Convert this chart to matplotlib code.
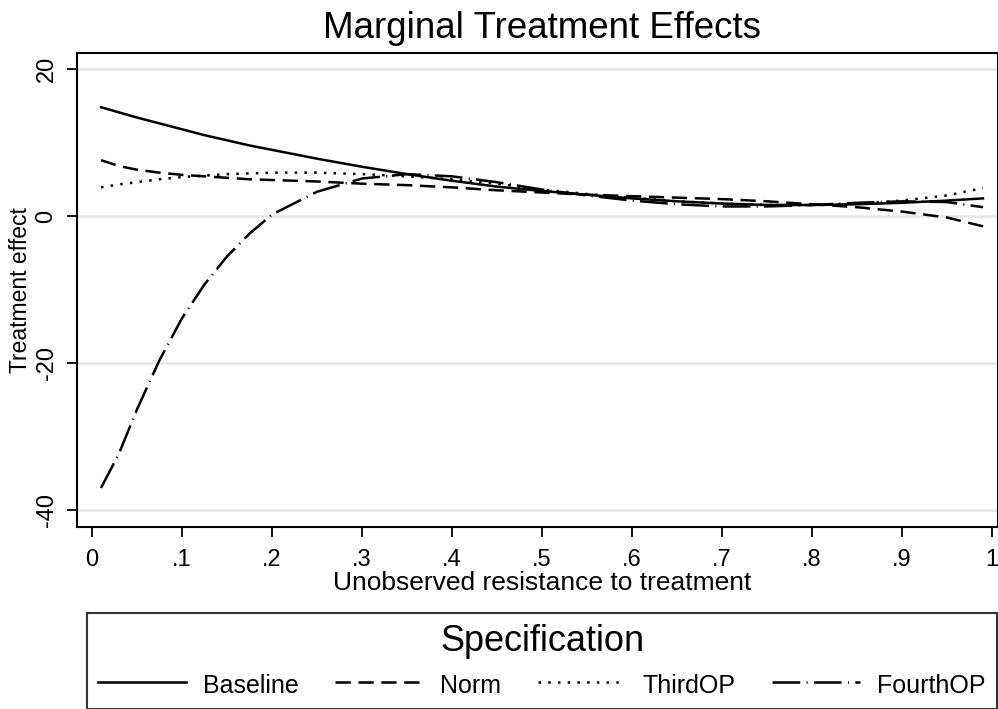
import matplotlib
matplotlib.use('Agg')
import matplotlib.pyplot as plt
import numpy as np

plt.rcParams['font.family'] = ['Liberation Sans', 'DejaVu Sans']
plt.rcParams['lines.scale_dashes'] = False

# Data
u = [0.01, 0.03, 0.05, 0.075, 0.1, 0.125, 0.15, 0.175, 0.2, 0.25, 0.3, 0.35,
     0.4, 0.45, 0.5, 0.55, 0.6, 0.65, 0.7, 0.75, 0.8, 0.85, 0.9, 0.95, 0.99]
baseline = [14.8, 14.1, 13.4, 12.6, 11.8, 11.0, 10.3, 9.6, 9.0, 7.8, 6.7, 5.7,
            4.8, 4.0, 3.4, 2.9, 2.4, 2.0, 1.7, 1.5, 1.5, 1.6, 1.8, 2.1, 2.4]
norm = [7.6, 6.8, 6.3, 5.9, 5.6, 5.4, 5.2, 5.0, 4.9, 4.7, 4.4, 4.2,
        3.9, 3.5, 3.2, 2.9, 2.7, 2.5, 2.3, 2.0, 1.6, 1.2, 0.6, -0.2, -1.4]
thirdop = [3.9, 4.3, 4.6, 5.0, 5.3, 5.5, 5.7, 5.8, 5.9, 5.9, 5.7, 5.4,
           5.0, 4.4, 3.6, 3.0, 2.5, 2.0, 1.7, 1.5, 1.5, 1.7, 2.1, 2.8, 3.8]
fourthop = [-37.0, -32.3, -26.3, -19.6, -13.9, -9.3, -5.5, -2.4, 0.2, 3.3, 5.1, 5.7,
            5.4, 4.6, 3.6, 2.8, 2.1, 1.6, 1.3, 1.3, 1.5, 1.8, 2.0, 1.9, 1.2]
series_names = ['Baseline', 'Norm', 'ThirdOP', 'FourthOP']
xtick_vals = [0, 0.1, 0.2, 0.3, 0.4, 0.5, 0.6, 0.7, 0.8, 0.9, 1.0]
xtick_labels = ['0', '.1', '.2', '.3', '.4', '.5', '.6', '.7', '.8', '.9', '1']
ytick_vals = [-40, -20, 0, 20]
ytick_labels = ['-40', '-20', '0', '20']

W, H = 998, 709
fig = plt.figure(figsize=(W / 100, H / 100), dpi=100)
ax = fig.add_axes([77 / W, (H - 527) / H, 921 / W, 474 / H])

styles = ['-', (0, (11, 5.5)), (0, (1.8, 5.2)), (0, (20, 4.5, 0.8, 4.5))]
for vals, name, ls in zip([baseline, norm, thirdop, fourthop], series_names, styles):
    ax.plot(u, vals, color='black', lw=1.8, ls=ls, label=name)

ax.set_xlim(-0.0167, 1.0067)
ax.set_ylim(-42.31, 22.18)
ax.set_xticks(xtick_vals)
ax.set_xticklabels(xtick_labels)
ax.set_yticks(ytick_vals)
ax.set_yticklabels(ytick_labels, rotation=90, va='center')
ax.grid(axis='y', color='#e6e6e6', lw=1.8)
ax.set_axisbelow(True)
ax.tick_params(length=7, width=1.3, labelsize=17, direction='out')
ax.tick_params(axis='x', pad=9)
ax.tick_params(axis='y', pad=7)
for s in ax.spines.values():
    s.set_linewidth(1.5)

fig.text(542 / W, 1 - 29 / H, 'Marginal Treatment Effects', fontsize=26.5,
         ha='center', va='center')
fig.text(542 / W, 1 - 583 / H, 'Unobserved resistance to treatment', fontsize=19,
         ha='center', va='center')
fig.text(21 / W, 1 - 290 / H, 'Treatment effect', fontsize=16.5, rotation=90,
         ha='center', va='center')

handles, labels = ax.get_legend_handles_labels()
leg = fig.legend(handles, labels, loc='upper left',
                 bbox_to_anchor=(87 / W, 0, 910 / W, (H - 613) / H),
                 mode='expand', ncol=4, title='Specification', title_fontsize=26,
                 fontsize=18, frameon=True, fancybox=False, edgecolor='black',
                 handlelength=3.5, handletextpad=0.7, borderaxespad=0,
                 borderpad=0.45, handleheight=1.2)
leg.get_frame().set_linewidth(1.5)

fig.savefig('out.png', dpi=100)
